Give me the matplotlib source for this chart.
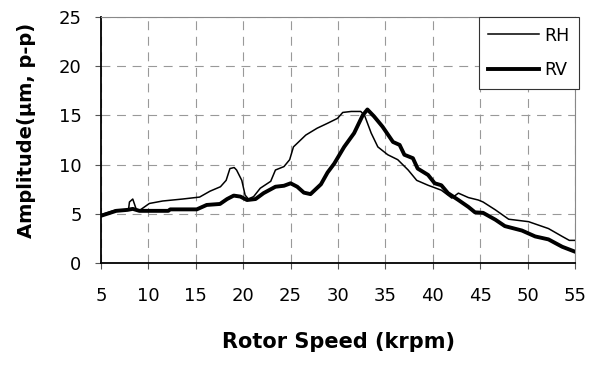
import matplotlib
matplotlib.use("Agg")
import matplotlib.pyplot as plt

plt.rcParams["font.family"] = ["DejaVu Sans"]

# ── Data ─────────────────────────────────────────────────────────────────────

rh_speed = [5.0, 6.6, 7.9, 8.0, 8.35, 8.7, 9.0, 10.1, 11.5, 13.6, 15.4, 16.5,
            17.6, 18.2, 18.6, 19.05, 19.3, 19.85, 20.2, 20.55, 21.1, 21.8,
            22.9, 23.4, 24.3, 24.9, 25.3, 26.6, 27.8, 28.9, 29.95, 30.5,
            31.4, 32.4, 32.8, 33.5, 34.2, 35.25, 36.3, 37.4, 38.3, 39.5,
            40.9, 42.0, 42.7, 43.75, 44.8, 45.3, 46.6, 48.0, 50.1, 52.2,
            53.65, 54.4, 55.0]
rh_amp = [4.9, 5.4, 5.4, 6.2, 6.5, 5.5, 5.3, 6.05, 6.3, 6.5, 6.7, 7.3,
          7.75, 8.4, 9.6, 9.7, 9.45, 8.4, 6.9, 6.5, 6.75, 7.6,
          8.3, 9.45, 9.8, 10.5, 11.8, 13.0, 13.7, 14.2, 14.7, 15.3,
          15.4, 15.4, 15.0, 13.2, 11.8, 11.0, 10.5, 9.45, 8.4, 7.9,
          7.4, 6.6, 7.1, 6.65, 6.4, 6.2, 5.4, 4.45, 4.2, 3.5,
          2.7, 2.3, 2.3]

rv_speed = [5.0, 6.6, 7.8, 8.35, 9.05, 12.1, 12.3, 15.1, 16.15, 17.55, 18.3,
            19.0, 19.7, 20.4, 21.3, 22.15, 23.4, 24.3, 25.0, 25.7, 26.4,
            27.1, 28.2, 28.9, 29.6, 30.65, 31.7, 32.6, 33.1, 33.8, 34.7,
            35.8, 36.5, 37.0, 37.9, 38.4, 39.5, 40.2, 40.9, 41.6, 42.7,
            43.75, 44.45, 45.3, 46.6, 47.6, 49.4, 50.8, 52.2, 53.65, 55.0]
rv_amp = [4.8, 5.3, 5.4, 5.5, 5.3, 5.3, 5.45, 5.45, 5.9, 6.0, 6.5,
          6.85, 6.75, 6.4, 6.5, 7.1, 7.75, 7.85, 8.1, 7.75, 7.15,
          7.0, 8.0, 9.2, 10.1, 11.8, 13.2, 15.0, 15.6, 14.9, 13.85,
          12.3, 12.0, 11.0, 10.65, 9.6, 8.95, 8.1, 7.9, 7.1, 6.4,
          5.7, 5.15, 5.1, 4.4, 3.75, 3.3, 2.7, 2.4, 1.65, 1.15]

x_ticks = list(range(5, 60, 5))
y_ticks = list(range(0, 30, 5))

# ── Plot ──────────────────────────────────────────────────────────────────────

fig = plt.figure(figsize=(5.9, 3.66), dpi=100)
ax = fig.add_axes([0.1712, 0.2814, 0.8034, 0.6722])

ax.plot(rh_speed, rh_amp, color="black", linewidth=1.1, label="RH", zorder=3)
ax.plot(rv_speed, rv_amp, color="black", linewidth=2.8, label="RV", zorder=4)

ax.set_xlim(5, 55)
ax.set_ylim(0, 25)
ax.set_xticks(x_ticks)
ax.set_yticks(y_ticks)
ax.tick_params(axis="both", labelsize=13, direction="out", length=4,
               width=0.8, color="#555555")
ax.tick_params(axis="x", pad=13)
ax.tick_params(axis="y", pad=10)

ax.grid(True, color="#999999", linestyle=(0, (8, 6)), linewidth=0.8, zorder=1)

for side in ("top", "right"):
    ax.spines[side].set_color("#888888")
    ax.spines[side].set_linewidth(0.8)
for side in ("left", "bottom"):
    ax.spines[side].set_color("black")
    ax.spines[side].set_linewidth(1.3)

ax.set_xlabel("Rotor Speed (krpm)", fontsize=15, fontweight="bold", labelpad=20)
ax.set_ylabel("Amplitude(\u03bcm, p-p)", fontsize=14, fontweight="bold")
ax.yaxis.set_label_coords(-0.137, 0.54)

leg = ax.legend(loc="upper right", bbox_to_anchor=(1.008, 1.0), fontsize=12.5,
                frameon=True, fancybox=False, borderaxespad=0,
                handlelength=2.9, handletextpad=0.3, borderpad=0.55,
                labelspacing=0.95)
leg.get_frame().set_edgecolor("#333333")
leg.get_frame().set_linewidth(0.8)
leg.get_frame().set_alpha(1.0)

fig.savefig("out.png", dpi=100)
plt.close(fig)
